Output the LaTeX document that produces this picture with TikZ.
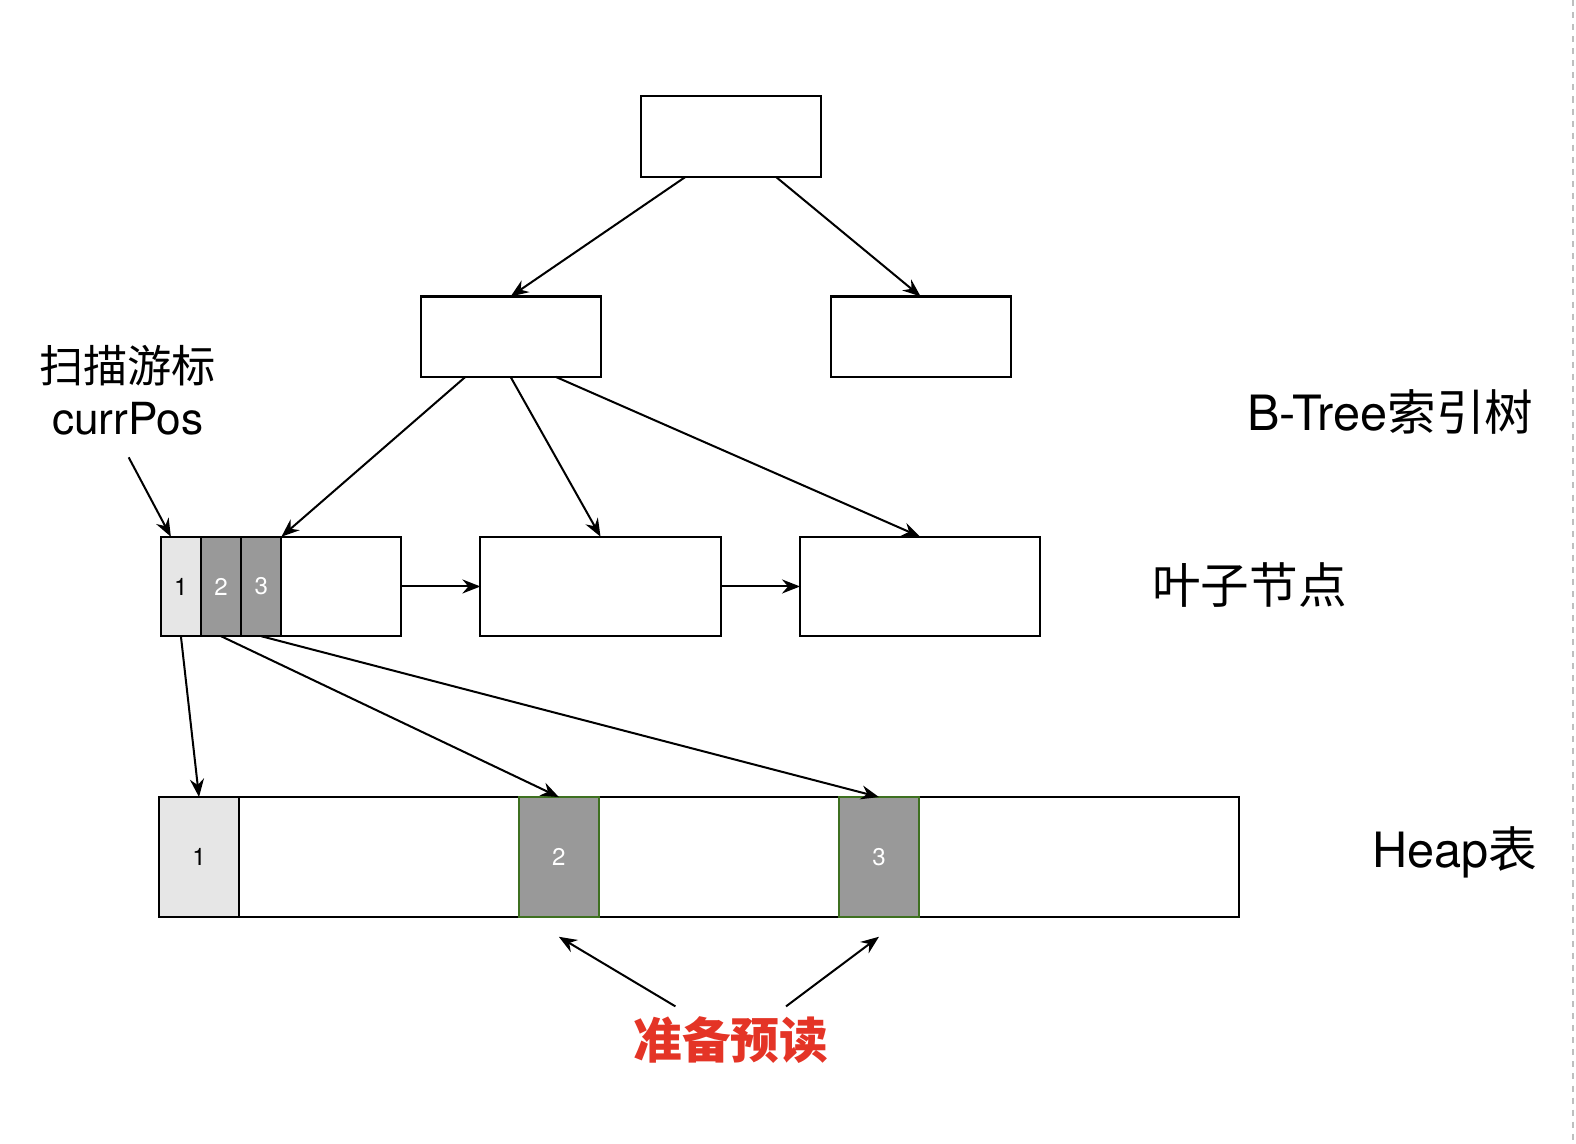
\documentclass[tikz,border=0pt]{standalone}
\usepackage{fontspec}
\setmainfont{TeX Gyre Heros}
\newfontfamily\cjk{Noto Sans CJK SC}
\usetikzlibrary{positioning,arrows.meta,calc}
\definecolor{cellLight}{RGB}{230,230,230}
\definecolor{cellDark}{RGB}{153,153,153}
\definecolor{heapGreen}{RGB}{62,112,32}
\definecolor{prefetchRed}{RGB}{228,52,38}
\tikzset{
  basebox/.style={draw, line width=1pt, outer sep=0pt, inner sep=0pt},
  treebox/.style={basebox, minimum width=89.5pt, minimum height=40pt},
  leafbox/.style={basebox, minimum width=119.5pt, minimum height=49.5pt},
  lcell/.style={basebox, minimum width=20pt, minimum height=49.5pt, font=\fontsize{12}{14}\selectfont},
  heapbox/.style={basebox, minimum width=537.5pt, minimum height=59.5pt},
  hcell/.style={basebox, minimum width=40pt, minimum height=59.5pt, font=\fontsize{12}{14}\selectfont},
  tag/.style={font=\fontsize{22}{26}\selectfont, inner sep=0pt},
  bigtag/.style={font=\fontsize{24.2}{28}\selectfont, inner sep=0pt},
  arr/.style={-{Stealth[length=9pt, width=7pt, inset=3pt]}, line width=1pt}
}
\begin{document}
\begin{tikzpicture}[x=0.5pt, y=-0.5pt]
  \useasboundingbox[fill=white] (0,0) rectangle (1568,1138);
  \draw[gray!50, dashed, line width=0.6pt] (1565,0) -- (1565,1138);

  % B-Tree
  \node[treebox] (root) at (727.5,136) {};
  \node[treebox] (midL) at (508,335) {};
  \node[treebox] (midR) at (916,335) {};

  % leaf nodes
  \node[leafbox] (leafA) at (279.5,583.5) {};
  \node[leafbox, right=39.5pt of leafA] (leafB) {};
  \node[leafbox, right=39.5pt of leafB] (leafC) {};
  \node[lcell, fill=cellLight, right=0pt of leafA.west] (lc1) {1};
  \node[lcell, fill=cellDark, text=white, right=0pt of lc1] (lc2) {2};
  \node[lcell, fill=cellDark, text=white, right=0pt of lc2] (lc3) {3};

  % heap
  \node[heapbox] (heap) at (695.5,852.5) {};
  \node[hcell, fill=cellLight, right=0pt of heap.west] (hc1) {1};
  \node[hcell, fill=cellDark, draw=heapGreen, text=white] (hc2) at (556,852.5) {2};
  \node[hcell, fill=cellDark, draw=heapGreen, text=white] (hc3) at (874.5,852.5) {3};

  % labels
  \node[tag, align=center] (cursor) at (127,388) {{\cjk 扫描游标}\\currPos};
  \coordinate (curTail) at (128,455);
  \node[bigtag, anchor=east] (btree) at (1526,410) {B-Tree{\cjk 索引树}};
  \node[bigtag, anchor=west] (leafTag) at (1146,582) {\cjk 叶子节点};
  \node[bigtag, anchor=east] (heapTag) at (1530,848) {Heap{\cjk 表}};
  \node[bigtag, text=prefetchRed] (pre) at (727,1035) {\cjk\bfseries 准备预读};

  % arrows
  \draw[arr] ([xshift=-22.75pt]root.south) -- (midL.north);
  \draw[arr] ([xshift=22.25pt]root.south) -- (midR.north);
  \draw[arr] ([xshift=-22.5pt]midL.south) -- (lc3.north east);
  \draw[arr] (midL.south) -- (leafB.north);
  \draw[arr] ([xshift=22.5pt]midL.south) -- (leafC.north);
  \draw[arr] (curTail) -- ([xshift=-5pt]lc1.north);
  \draw[arr] (leafA) -- (leafB);
  \draw[arr] (leafB) -- (leafC);
  \draw[arr] (lc1.south) -- (hc1.north);
  \draw[arr] (lc2.south) -- (hc2.north);
  \draw[arr] (lc3.south) -- (hc3.north);
  \draw[arr] ([xshift=-27.5pt,yshift=5pt]pre.north) -- ([yshift=-10pt]hc2.south);
  \draw[arr] ([xshift=27.5pt,yshift=5pt]pre.north) -- ([yshift=-10pt]hc3.south);
\end{tikzpicture}
\end{document}
